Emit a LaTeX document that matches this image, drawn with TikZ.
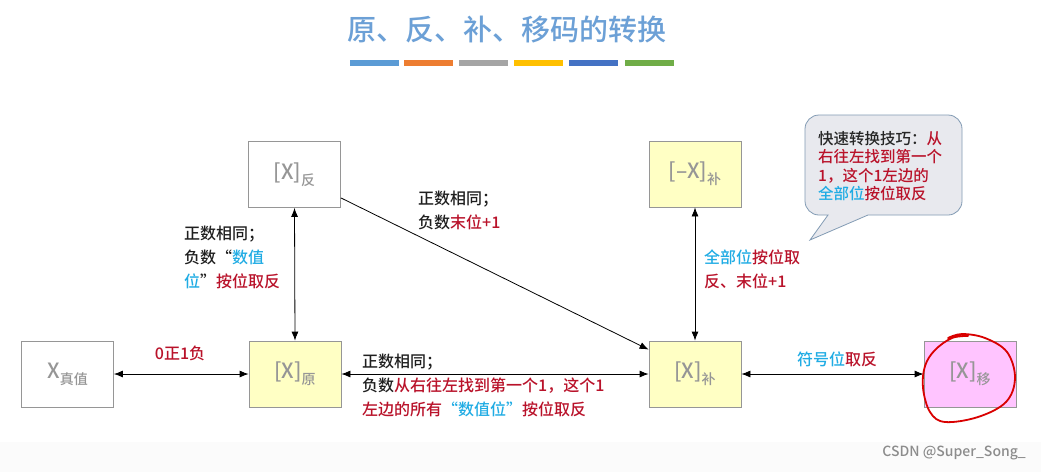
\documentclass[tikz,border=0pt]{standalone}
\usepackage{fontspec}
\setmainfont{Noto Sans CJK SC Medium}
\usetikzlibrary{arrows.meta,calc}
\definecolor{txtred}{RGB}{185,18,42}
\definecolor{txtcyan}{RGB}{32,172,228}
\definecolor{titleblue}{RGB}{108,160,214}
\definecolor{boxgray}{RGB}{150,150,150}
\definecolor{yellowfill}{RGB}{255,255,196}
\definecolor{pinkfill}{RGB}{255,196,255}
\definecolor{calloutfill}{RGB}{232,233,238}
\definecolor{calloutdraw}{RGB}{130,155,180}
\definecolor{barblue}{RGB}{91,155,213}
\definecolor{barorange}{RGB}{237,125,49}
\definecolor{bargray}{RGB}{165,165,165}
\definecolor{baryellow}{RGB}{255,192,0}
\definecolor{bardarkblue}{RGB}{68,114,196}
\definecolor{bargreen}{RGB}{112,173,71}
\newcommand{\Xsub}[2]{#1\raisebox{-0.3em}{\fontsize{14}{14}\selectfont #2}}
\tikzset{
  box/.style={draw=boxgray, line width=0.8pt, minimum width=92pt, minimum height=66pt, inner sep=0pt,
    text=boxgray, font=\fontsize{21}{21}\selectfont},
  whitebox/.style={box, fill=white},
  yelbox/.style={box, fill=yellowfill},
  pinkbox/.style={box, fill=pinkfill},
  conn/.style={line width=0.8pt, black},
  dbl/.style={conn, {Latex[length=9pt,width=7pt]}-{Latex[length=9pt,width=7pt]}},
  sgl/.style={conn, -{Latex[length=9pt,width=7pt]}},
  lbl/.style={inner sep=0pt, align=left, anchor=north west, text=black!88, font=\fontsize{16}{24}\selectfont},
  bar/.style={draw=none, minimum width=49pt, minimum height=6pt, inner sep=0pt},
}
\begin{document}
\begin{tikzpicture}[x=1pt,y=-1pt]
\useasboundingbox (0,0) rectangle (1041,472);
\fill[white] (0,0) rectangle (1041,472);
\fill[black!1.5] (0,442) rectangle (1041,472);
% title
\node[text=titleblue, font=\fontsize{29}{29}\selectfont, inner sep=0pt] (title) at (507,30) {原、反、补、移码的转换};
\node[bar, fill=barblue] (b1) at (374,63) {};
\node[bar, fill=barorange] (b2) at (428,63) {};
\node[bar, fill=bargray] (b3) at (483,63) {};
\node[bar, fill=baryellow] (b4) at (538,63) {};
\node[bar, fill=bardarkblue] (b5) at (593,63) {};
\node[bar, fill=bargreen] (b6) at (649,63) {};
% boxes
\node[whitebox] (zhen) at (67.5,374) {X\raisebox{-0.3em}{\fontsize{14}{14}\selectfont 真值}};
\node[yelbox] (yuan) at (295,374) {\Xsub{[X]}{原}};
\node[whitebox] (fan) at (294.5,174.5) {\Xsub{[X]}{反}};
\node[yelbox] (negbu) at (695,174) {\Xsub{[–X]}{补}};
\node[yelbox] (bu) at (695,374) {\Xsub{[X]}{补}};
\node[pinkbox] (yi) at (970,374) {\Xsub{[X]}{移}};
% connectors
\draw[dbl] (zhen.east) -- (yuan.west);
\draw[dbl] (yuan.east) -- (bu.west);
\draw[dbl] (yuan.north) -- (fan.south);
\draw[dbl] (bu.north) -- (negbu.south);
\draw[dbl] (bu.east) -- (yi.west);
\coordinate (fanout) at ($(fan.south east)+(0,-10)$);
\coordinate (buin) at ($(bu.north west)+(0,9)$);
\draw[sgl] (fanout) -- (buin);
% labels
\node[inner sep=0pt, text=txtred, font=\fontsize{16}{16}\selectfont] (l0) at (180,353) {0正1负};
\node[lbl] (lleft) at (184,226) {正数相同；\\负数“{\color{txtcyan}数值}\\{\color{txtcyan}位}”{\color{txtred}按位取反}};
\node[lbl] (ldiag) at (418,191) {正数相同；\\负数{\color{txtred}末位+1}};
\node[lbl, text=txtred] (lright) at (704,250) {{\color{txtcyan}全部位}按位取\\反、末位+1};
\node[lbl] (lbottom) at (362,354) {正数相同；\\负数{\color{txtred}从右往左找到第一个1，这个1}\\{\color{txtred}左边的所有}{\color{txtcyan}“数值位”}{\color{txtred}按位取反}};
\node[inner sep=0pt, font=\fontsize{16}{16}\selectfont] (lsign) at (837,359) {{\color{txtcyan}符号位}{\color{txtred}取反}};
% callout
\draw[fill=calloutfill, draw=calloutdraw, line width=0.8pt]
  (810,240) -- (868,215) [rounded corners=14pt] -- (962,215) -- (962,115) -- (805,115) -- (805,215) [sharp corners] -- (828,215) -- cycle;
\node[inner sep=0pt, align=left, anchor=north west, text=black!85, font=\fontsize{15.5}{18.5}\selectfont] (tip) at (818,131)
  {快速转换技巧：{\color{txtred}从}\\{\color{txtred}右往左找到第一个}\\{\color{txtred}1，这个1左边的}\\{\color{txtcyan}全部位}{\color{txtred}按位取反}};
% hand-drawn red loop
\draw[red!85!black, line width=1.8pt, line cap=round] plot[smooth, tension=0.6] coordinates
  {(948,338) (962,334) (985,338) (1007,352) (1015,378) (1006,402) (978,417) (945,422) (930,412) (923,388) (925,366) (935,350) (952,338) (968,336)};
% watermark
\node[inner sep=0pt, anchor=east, text=black!45, font=\fontsize{14}{14}\selectfont] (wm) at (1026,453) {CSDN @Super\_Song\_};
\end{tikzpicture}
\end{document}
